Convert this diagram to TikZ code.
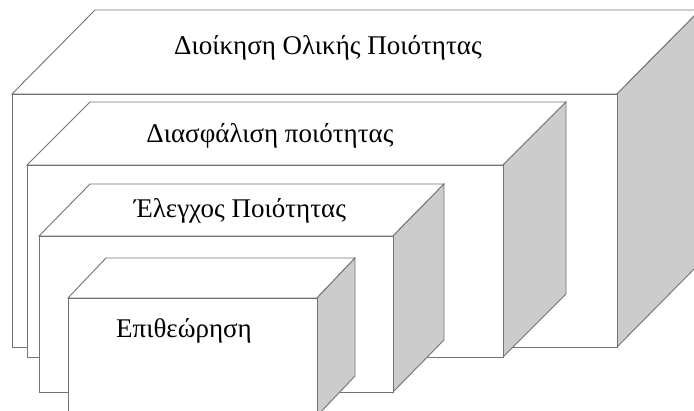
\documentclass[tikz,border=0pt]{standalone}
\usepackage{fontspec}
\setmainfont{Liberation Serif}
\tikzset{
  edge/.style={draw=black!55, line width=0.9pt, line join=miter},
  frontface/.style={edge, fill=white},
  sideface/.style={edge, fill=black!20},
  label/.style={anchor=base, inner sep=0pt, font=\fontsize{27}{30}\selectfont}
}
% one box: front face from (#1,#2) to (#3,#4), depth shift (#5,#6)
\newcommand{\levelbox}[6]{%
  \path[frontface] (#1,#2) -- (#1+#5,#2-#6) -- (#3+#5,#2-#6) -- (#3,#2) -- cycle;
  \path[sideface] (#3,#2) -- (#3+#5,#2-#6) -- (#3+#5,#4-#6) -- (#3,#4) -- cycle;
  \path[frontface] (#1,#2) rectangle (#3,#4);
}
\begin{document}
\begin{tikzpicture}[x=1pt,y=-1pt]
  \useasboundingbox (0,0) rectangle (694,410);
  \clip (0,0) rectangle (694,410);
  \fill[white] (0,0) rectangle (694,410);
  \levelbox{12}{94}{617}{347}{83}{84}
  \levelbox{27}{165}{503}{357}{63}{63}
  \levelbox{39}{236}{393}{392}{51}{52}
  \levelbox{68}{298}{317}{416}{38}{40}
  \node[label] (tqm) at (328,54) {Διοίκηση Ολικής Ποιότητας};
  \node[label] (qa) at (270,142) {Διασφάλιση ποιότητας};
  \node[label] (qc) at (240,217) {Έλεγχος Ποιότητας};
  \node[label] (insp) at (184,337) {Επιθεώρηση};
\end{tikzpicture}
\end{document}
